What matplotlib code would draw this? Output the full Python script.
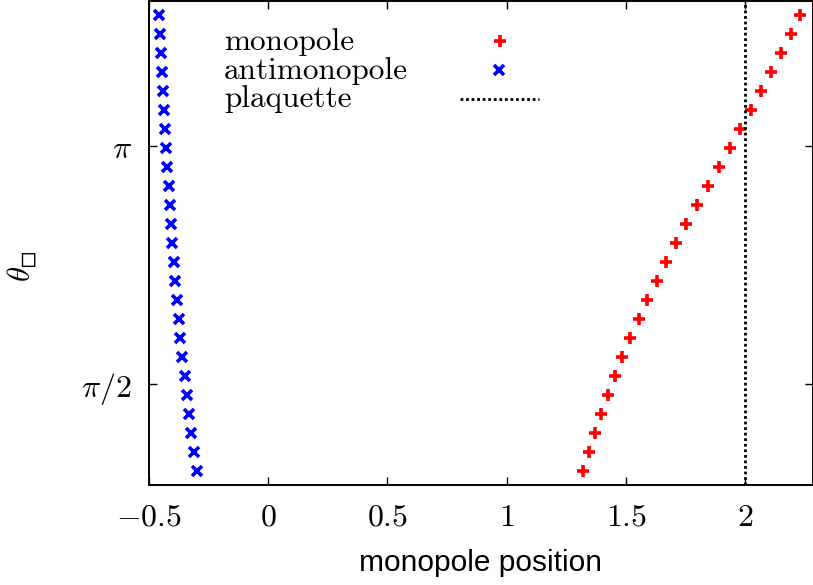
import numpy as np
import matplotlib
matplotlib.use("Agg")
import matplotlib.pyplot as plt

plt.rcParams['mathtext.fontset'] = 'cm'

theta = [1.0 + 0.125 * k for k in range(25)]
mono_x = [1.321, 1.345, 1.369, 1.395, 1.423, 1.452, 1.483, 1.516, 1.553, 1.589,
          1.628, 1.668, 1.709, 1.752, 1.796, 1.842, 1.888, 1.934, 1.979, 2.024,
          2.065, 2.108, 2.150, 2.191, 2.229]
anti_x = [-0.296, -0.310, -0.321, -0.331, -0.340, -0.350, -0.359, -0.367, -0.374, -0.381,
          -0.388, -0.395, -0.401, -0.406, -0.412, -0.416, -0.422, -0.427, -0.431, -0.436,
          -0.441, -0.444, -0.448, -0.451, -0.455]
plaquette_x = 2.0
xticks = [-0.5, 0, 0.5, 1, 1.5, 2]
xticklabels = [r'$-0.5$', r'$0$', r'$0.5$', r'$1$', r'$1.5$', r'$2$']
yticks = [np.pi / 2, np.pi]
yticklabels = [r'$\pi/2$', r'$\pi$']

fig = plt.figure(figsize=(8.13, 5.85), dpi=100)
ax = fig.add_axes([0.1829, 0.171, 0.8171, 0.827])

ax.plot(mono_x, theta, linestyle='none', marker='+', color='red',
        markersize=8, markeredgewidth=2.6)
ax.plot(anti_x, theta, linestyle='none', marker='x', color='blue',
        markersize=7, markeredgewidth=2.6)
ax.axvline(plaquette_x, color='black', linestyle=(0, (1, 1)), linewidth=2.0)

ax.set_xlim(-0.5, 2.283)
ax.set_ylim(0.908, 4.094)
ax.set_xticks(xticks)
ax.set_xticklabels(xticklabels, fontsize=23)
ax.set_yticks(yticks)
ax.set_yticklabels(yticklabels, fontsize=23)
ax.tick_params(direction='in', length=6, width=1.0, top=True, right=True)
ax.tick_params(axis='x', pad=12)
ax.tick_params(axis='y', pad=12)
for s in ax.spines.values():
    s.set_linewidth(1.4)

ax.set_xlabel('monopole position', fontsize=21.5, family='Liberation Sans', labelpad=12)
ax.set_ylabel('$\\theta_{\u25fb}$', fontsize=22)
ax.yaxis.set_label_coords(-0.167, 0.452)

# legend (gnuplot style)
tr = ax.transAxes
def fx(px):
    return (px - 148.7) / (813 - 148.7)
def fy(py):
    return 1 - (py - 1) / (485 - 1)
labels = ['monopole', 'antimonopole', 'plaquette']
ys = [50, 79, 107]
for lab, yy in zip(labels, ys):
    ax.text(fx(224), fy(yy), lab, transform=tr, fontsize=22.5, family='cmr10',
            ha='left', va='baseline')
ax.plot([fx(500)], [fy(41)], transform=tr, marker='+', color='red',
        markersize=8, markeredgewidth=2.6, linestyle='none')
ax.plot([fx(499)], [fy(70)], transform=tr, marker='x', color='blue',
        markersize=7, markeredgewidth=2.6, linestyle='none')
ax.plot([fx(460), fx(539)], [fy(99)] * 2, transform=tr, color='black',
        linestyle=(0, (1, 1)), linewidth=2.0)

fig.savefig('out.png', dpi=100)
